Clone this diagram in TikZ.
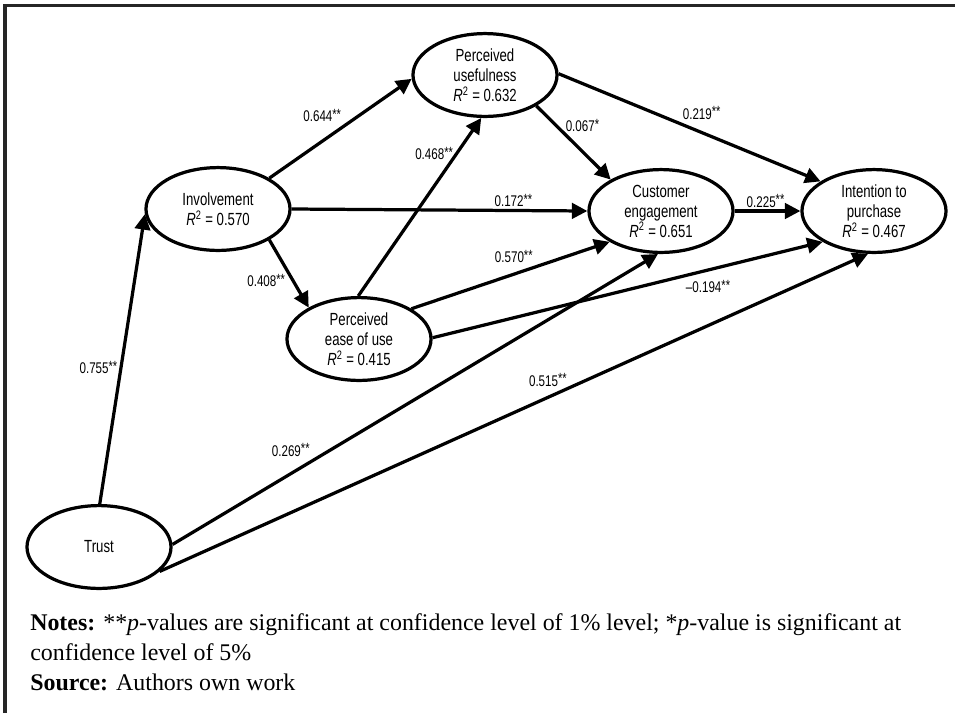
\documentclass[tikz,border=0pt]{standalone}
\usepackage{fontspec}
\setmainfont{Liberation Serif}
\newfontfamily\narrowsans[FakeStretch=0.75]{Liberation Sans}
\usetikzlibrary{arrows.meta,shapes.geometric}
\newcommand\sig[1]{\raisebox{0.3ex}{\fontsize{10.5}{10.5}\selectfont#1}}

\begin{document}
\begin{tikzpicture}[x=0.025cm,y=-0.025cm,
  construct/.style={ellipse,draw,line width=2.3pt,minimum width=3.6cm,minimum height=2.07cm,inner sep=0pt,align=center,font=\narrowsans\fontsize{12.5}{14.2}\selectfont},
  link/.style={line width=2.3pt,-{Triangle[length=11pt,width=11pt]}},
  coef/.style={font=\narrowsans\fontsize{11}{12}\selectfont,inner sep=1.5pt}]
\useasboundingbox (0,0) rectangle (955,713);
\draw[line width=2.5pt,black!85](5,713)--(5,5.5)--(955,5.5);
% constructs
\node[construct](pu) at (485,75){Perceived\\usefulness\\{\itshape R}\textsuperscript{2} = 0.632};
\node[construct](inv) at (218,209){Involvement\\{\itshape R}\textsuperscript{2} = 0.570};
\node[construct](peou) at (359,339){Perceived\\ease of use\\{\itshape R}\textsuperscript{2} = 0.415};
\node[construct](ce) at (661,211){Customer\\engagement\\{\itshape R}\textsuperscript{2} = 0.651};
\node[construct](ip) at (874,211){Intention to\\purchase\\{\itshape R}\textsuperscript{2} = 0.467};
\node[construct](trust) at (99,547){Trust};
% paths
\draw[link](trust.89)--node[coef,pos=0.47,left]{0.755\sig{**}}(inv.184);
\draw[link](inv.31)--node[coef,pos=0.53,above left]{0.644\sig{**}}(pu.183);
\draw[link](inv.0)--node[coef,pos=0.75,above]{0.172\sig{**}}(ce.180);
\draw[link](inv.329)--node[coef,pos=0.6,left,xshift=-3pt]{0.408\sig{**}}(peou.148);
\draw[link](peou.91)--node[coef,pos=0.8,left]{0.468\sig{**}}(pu.265);
\draw[link](pu.329)--node[coef,pos=0.27,right,xshift=4pt]{0.067\sig{*}}(ce.148);
\draw[link](pu.1)--node[coef,pos=0.46,above right]{0.219\sig{**}}(ip.151);
\draw[link](ce.0)--node[coef,pos=0.47,above]{0.225\sig{**}}(ip.180);
\draw[link](peou.30)--node[coef,pos=0.63,above left]{0.570\sig{**}}(ce.211);
\draw[link](peou.1)--node[coef,pos=0.64,below right]{\textendash0.194\sig{**}}(ip.211);
\draw[link](trust.2)--node[coef,pos=0.29,above left]{0.269\sig{**}}(ce.266);
\draw[link](trust.338)--node[coef,pos=0.58,above left,yshift=-2pt]{0.515\sig{**}}(ip.262);
% notes
\begin{scope}[every node/.style={anchor=base west,inner sep=0pt,font=\fontsize{17}{20}\selectfont}]
\node(notes) at (30,630){\textbf{Notes:} **\textit{p}-values are significant at confidence level of 1\% level; *\textit{p}-value is significant at};
\node(notes2) at (30,660){confidence level of 5\%};
\node(source) at (30,690){\textbf{Source:} Authors own work};
\end{scope}
\end{tikzpicture}
\end{document}
